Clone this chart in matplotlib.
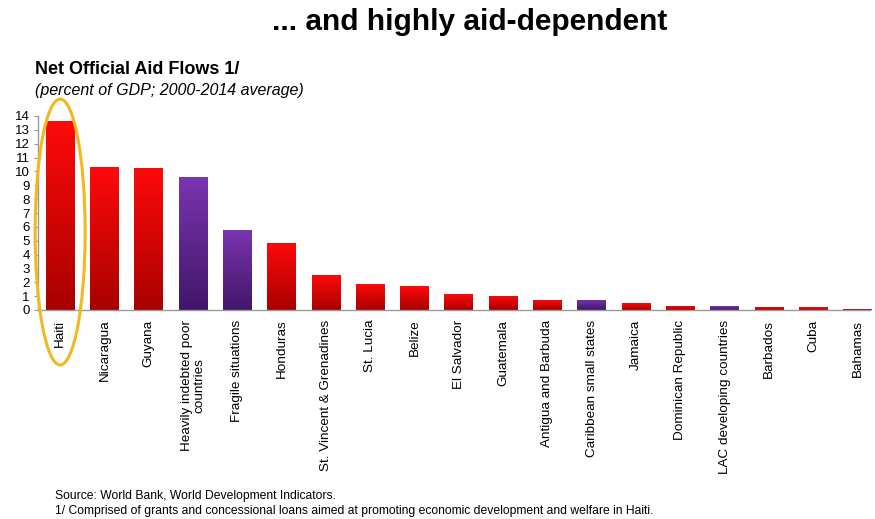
import matplotlib
matplotlib.use("Agg")
import matplotlib.pyplot as plt
import numpy as np
from matplotlib.patches import Ellipse
from matplotlib.colors import LinearSegmentedColormap

categories = ["Haiti", "Nicaragua", "Guyana", "Heavily indebted poor\ncountries",
              "Fragile situations", "Honduras", "St. Vincent & Grenadines", "St. Lucia",
              "Belize", "El Salvador", "Guatemala", "Antigua and Barbuda",
              "Caribbean small states", "Jamaica", "Dominican Republic",
              "LAC developing countries", "Barbados", "Cuba", "Bahamas"]
values = [13.65, 10.35, 10.25, 9.6, 5.8, 4.85, 2.5, 1.9, 1.7, 1.13, 1.04, 0.75,
          0.75, 0.48, 0.32, 0.27, 0.22, 0.2, 0.1]
groups = ["c", "c", "c", "g", "g", "c", "c", "c", "c", "c", "c", "c",
          "g", "c", "c", "g", "c", "c", "c"]

plt.rcParams['font.family'] = ['Liberation Sans', 'DejaVu Sans']

fig = plt.figure(figsize=(8.75, 5.19), dpi=100)
ax = fig.add_axes([38/875, 1-310/519, (870-38)/875, (310-116)/519])

cmaps = {
    "c": LinearSegmentedColormap.from_list("r", ["#a80000", "#ff0a0a"]),
    "g": LinearSegmentedColormap.from_list("p", ["#42166a", "#7a35b0"]),
}
x = np.arange(len(categories))
w = 0.65
bars = ax.bar(x, values, width=w, color="none", edgecolor="none")
grad = np.linspace(0, 1, 256).reshape(-1, 1)
for b, v, g in zip(bars, values, groups):
    x0 = b.get_x()
    im = ax.imshow(grad, extent=[x0, x0 + w, 0, v], origin="lower", aspect="auto",
                   cmap=cmaps[g], zorder=2)
    im.set_clip_path(b)

ax.set_xlim(-0.5, 18.28)
ax.set_ylim(0, 14)
ax.set_yticks(range(0, 15))
ax.tick_params(axis="y", labelsize=9.5, length=3, color="#999999", pad=3)
ax.set_xticks(x)
ax.set_xticklabels(categories, rotation=90, fontsize=9.7, va="top", ha="center",
                   multialignment="center", linespacing=1.0)
ax.tick_params(axis="x", length=0, pad=7)
for s in ["top", "right"]:
    ax.spines[s].set_visible(False)
for s in ["left", "bottom"]:
    ax.spines[s].set_color("#999999")
    ax.spines[s].set_linewidth(1)

ell = Ellipse((0, (310-232)/13.86), width=50/44.3, height=266/13.86,
              fill=False, edgecolor="#f2b81d", linewidth=2.2, clip_on=False, zorder=5)
ax.add_patch(ell)

fig.text(470/875, 1-22/519, "... and highly aid-dependent", ha="center", va="center",
         fontsize=21.5, fontweight="bold")
fig.text(35/875, 1-70/519, "Net Official Aid Flows 1/", ha="left", va="center",
         fontsize=13, fontweight="bold")
fig.text(35/875, 1-90/519, "(percent of GDP; 2000-2014 average)", ha="left", va="center",
         fontsize=11.5, style="italic")
fig.text(55/875, 1-496/519, "Source: World Bank, World Development Indicators.",
         ha="left", va="center", fontsize=8.7)
fig.text(55/875, 1-511/519,
         "1/ Comprised of grants and concessional loans aimed at promoting economic development and welfare in Haiti.",
         ha="left", va="center", fontsize=8.7)

fig.savefig("out.png", dpi=100)
